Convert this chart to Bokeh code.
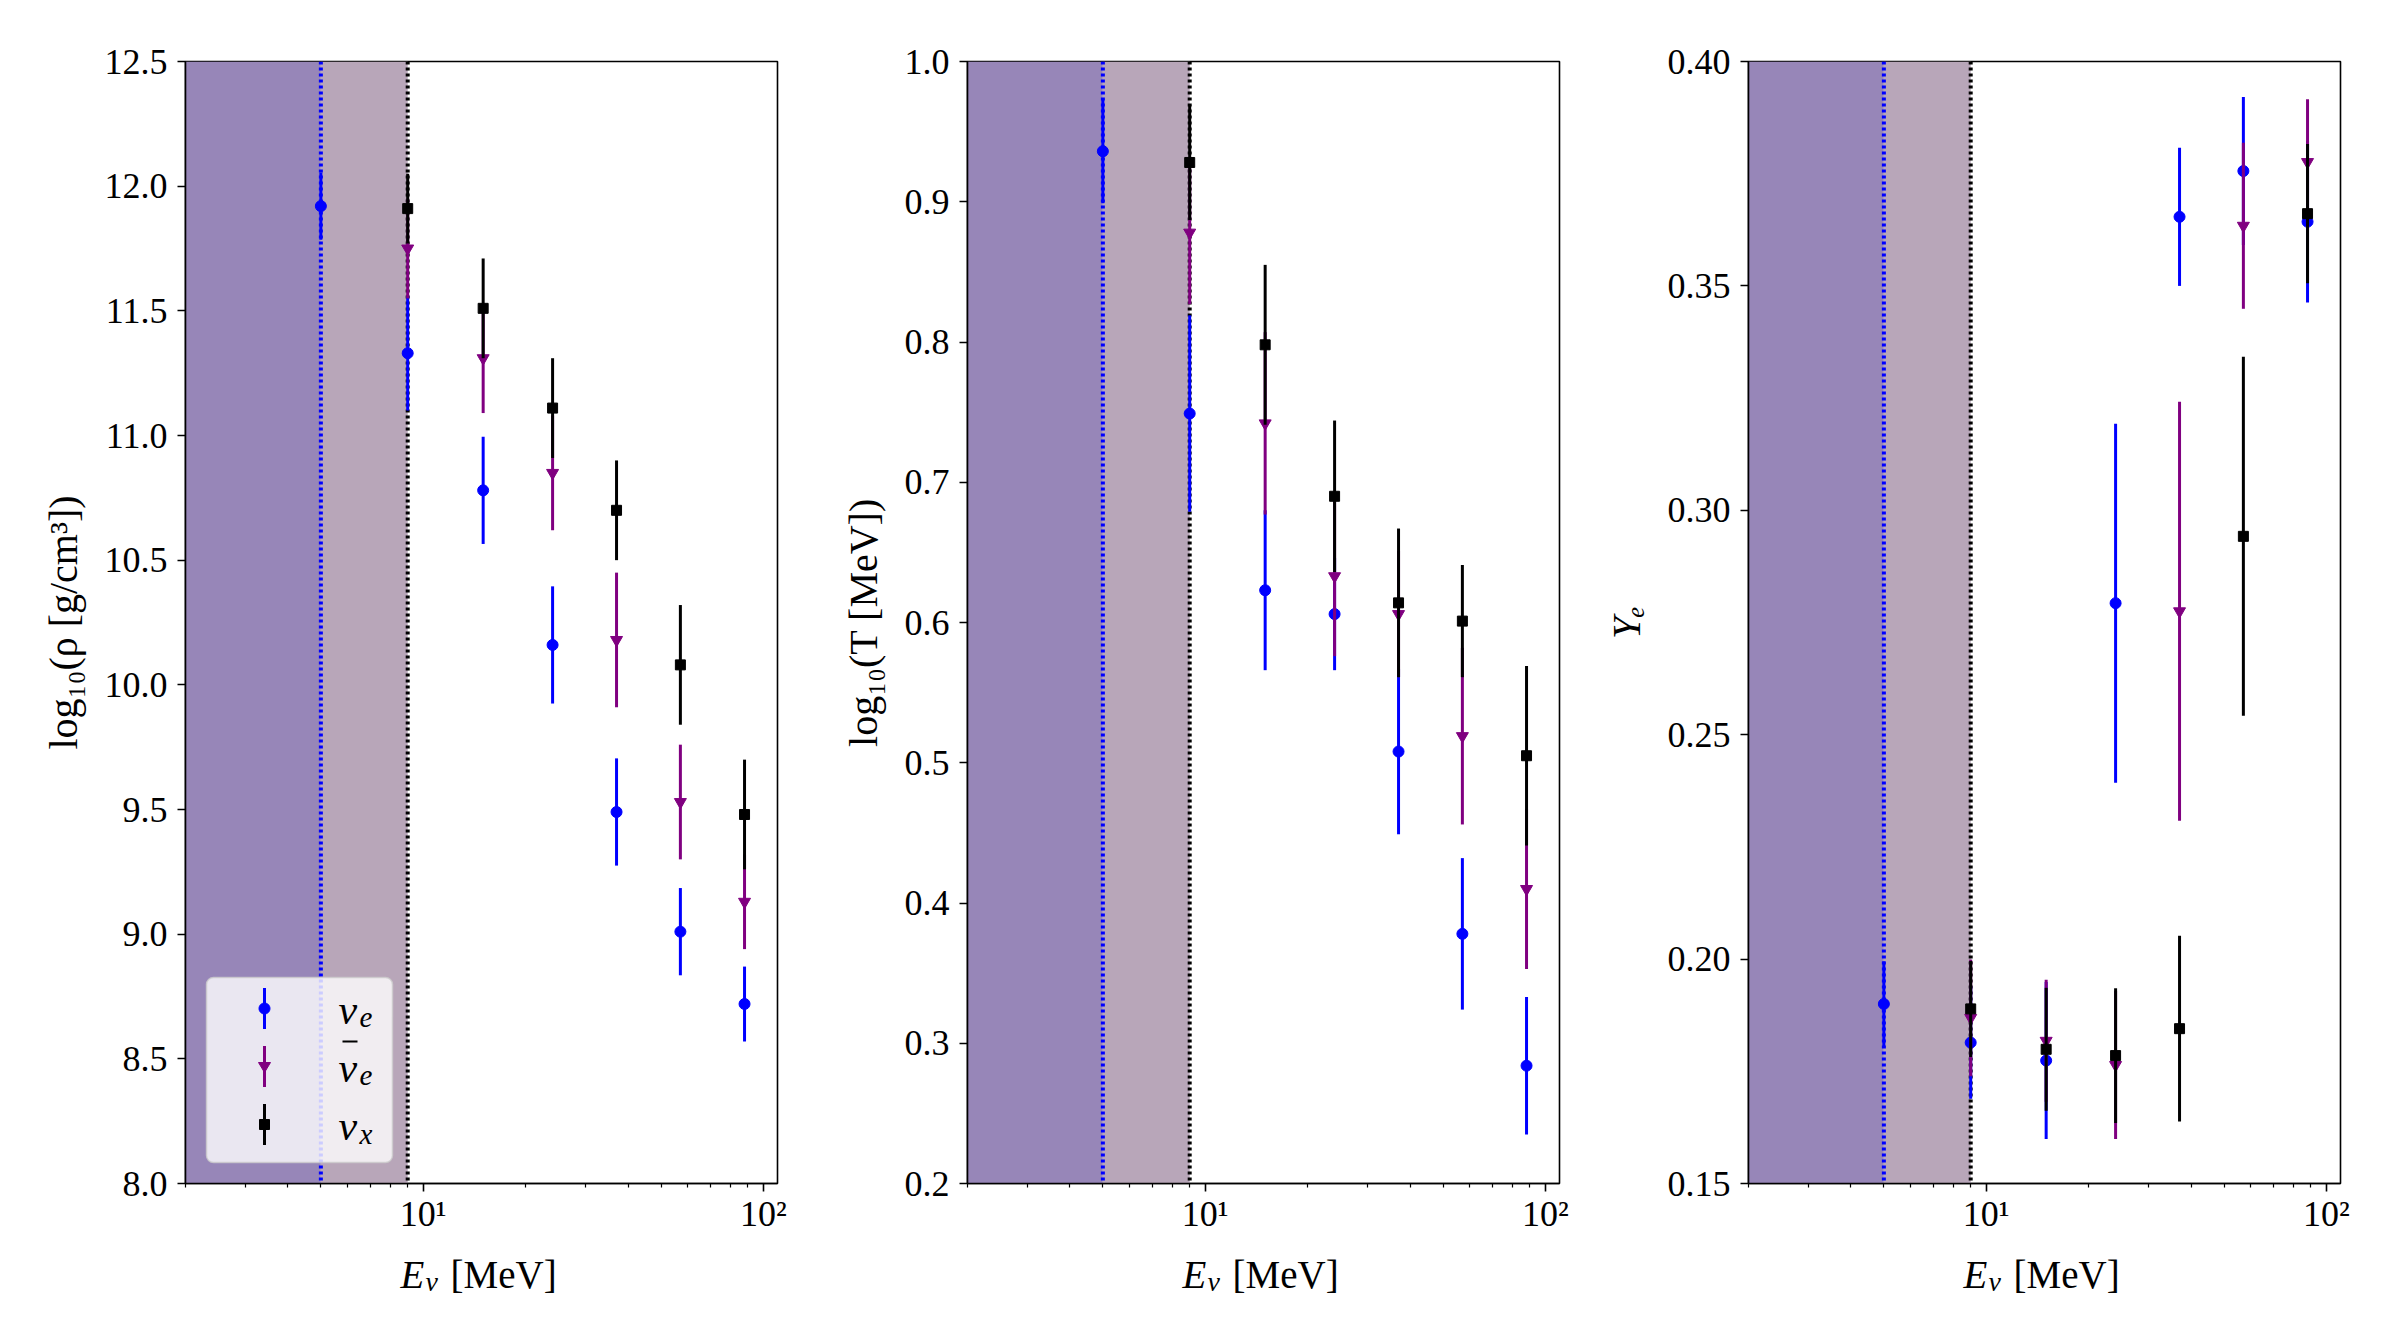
import numpy as np
from bokeh.plotting import figure
from bokeh.layouts import row, column
from bokeh.models import (Range1d, FixedTicker, PrintfTickFormatter, BoxAnnotation,
                          Span, Label, Arrow, PolyAnnotation)
from bokeh.embed import file_html
from bokeh.resources import INLINE

# ---------------------------------------------------------------- data
energy = [5, 9, 15, 24, 37, 57, 88]          # neutrino energy bins [MeV]
energy_heavy = energy[1:]                    # anti-nu_e and nu_x start at 9 MeV
x_limits = (2, 110)
shade_edges = [5, 9]                         # decoupling energies of nu_e / others

rho_nue = [11.92, 11.33, 10.78, 10.16, 9.49, 9.01, 8.72]
rho_nue_err = [0.135, 0.23, 0.215, 0.235, 0.215, 0.175, 0.15]
rho_anue = [11.75, 11.31, 10.85, 10.18, 9.53, 9.13]
rho_anue_err = [0.20, 0.22, 0.23, 0.27, 0.23, 0.19]
rho_nux = [11.91, 11.51, 11.11, 10.70, 10.08, 9.48]
rho_nux_err = [0.14, 0.20, 0.20, 0.20, 0.24, 0.22]

temp_nue = [0.936, 0.749, 0.623, 0.606, 0.508, 0.378, 0.284]
temp_nue_err = [0.037, 0.07, 0.057, 0.04, 0.059, 0.054, 0.049]
temp_anue = [0.878, 0.742, 0.633, 0.606, 0.519, 0.410]
temp_anue_err = [0.051, 0.065, 0.057, 0.045, 0.063, 0.057]
temp_nux = [0.928, 0.798, 0.690, 0.614, 0.601, 0.505]
temp_nux_err = [0.041, 0.057, 0.054, 0.053, 0.040, 0.064]

ye_nue = [0.190, 0.1814, 0.1774, 0.2793, 0.3654, 0.3756, 0.3643]
ye_nue_err = [0.0095, 0.0125, 0.0175, 0.040, 0.0154, 0.0165, 0.018]
ye_anue = [0.1869, 0.1818, 0.1764, 0.2775, 0.3634, 0.3776]
ye_anue_err = [0.013, 0.0136, 0.0165, 0.0467, 0.0185, 0.014]
ye_nux = [0.1889, 0.1799, 0.1785, 0.1845, 0.2942, 0.3661]
ye_nux_err = [0.0107, 0.0137, 0.015, 0.0207, 0.040, 0.0155]

x_major_ticks = [10, 100]
x_major_labels = {10: "10\u00b9", 100: "10\u00b2"}
x_minor_ticks = [m * 10 ** k for k in (0, 1) for m in range(2, 10)]

# ---------------------------------------------------------------- style
FONT = "Liberation Serif"
C_NUE, C_ANUE, C_NUX = "#0000ff", "#800080", "#000000"
SHADE_DARK, SHADE_LIGHT = "#9786b8", "#b8a6b9"
FRAME_W, FRAME_H = 592, 1122
BORDER_TOP, BORDER_BOTTOM = 61, 50
TOTAL_W, TOTAL_H = 2400, 1334
BORDERS = [(185, 10), (180, 10), (179, 60)]   # (left, right) of each panel


def errorbars(p, x, y, err, color, marker, size):
    y = np.asarray(y, dtype=float)
    err = np.asarray(err, dtype=float)
    p.segment(x0=x, y0=y - err, x1=x, y1=y + err, line_color=color, line_width=3)
    p.scatter(x=x, y=y, marker=marker, size=size, fill_color=color, line_color=color)


def make_panel(ylabel, y_lo, y_hi, y_ticks, fmt, series, border_left, border_right,
               label_italic=False):
    p = figure(x_axis_type="log", x_range=Range1d(*x_limits), y_range=Range1d(y_lo, y_hi),
               frame_width=FRAME_W, frame_height=FRAME_H,
               min_border_left=border_left, min_border_right=border_right,
               min_border_top=BORDER_TOP, min_border_bottom=BORDER_BOTTOM,
               output_backend="svg", toolbar_location=None,
               background_fill_color="white", border_fill_color="white")
    p.grid.visible = False
    p.outline_line_color = "black"
    p.outline_line_width = 1.6

    # shaded regions below the decoupling energies
    p.add_layout(BoxAnnotation(right=shade_edges[0], fill_color=SHADE_DARK, fill_alpha=1.0,
                               line_alpha=0, level="underlay"))
    p.add_layout(BoxAnnotation(left=shade_edges[0], right=shade_edges[1], fill_color=SHADE_LIGHT,
                               fill_alpha=1.0, line_alpha=0, level="underlay"))
    p.add_layout(Span(location=shade_edges[0], dimension="height", line_color=C_NUE,
                      line_width=4, line_dash="3 3", level="underlay"))
    p.add_layout(Span(location=shade_edges[1], dimension="height", line_color=C_NUX,
                      line_width=4, line_dash="3 3", level="underlay"))

    nue, nue_err, anue, anue_err, nux, nux_err = series
    errorbars(p, energy, nue, nue_err, C_NUE, "circle", 11)
    errorbars(p, energy_heavy, anue, anue_err, C_ANUE, "inverted_triangle", 12)
    errorbars(p, energy_heavy, nux, nux_err, C_NUX, "square", 10)

    xa = p.xaxis[0]
    xa.ticker = FixedTicker(ticks=x_major_ticks, minor_ticks=x_minor_ticks)
    xa.major_label_overrides = x_major_labels
    ya = p.yaxis[0]
    ya.ticker = FixedTicker(ticks=y_ticks, minor_ticks=[])
    ya.formatter = PrintfTickFormatter(format=fmt)
    ya.axis_label = ylabel
    ya.axis_label_text_font_style = "italic" if label_italic else "normal"
    ya.axis_label_standoff = 16

    for ax in (xa, ya):
        ax.axis_line_color = "black"
        ax.axis_line_width = 1.6
        ax.major_tick_line_color = "black"
        ax.major_tick_line_width = 1.6
        ax.minor_tick_line_color = "black"
        ax.minor_tick_line_width = 1.2
        ax.major_tick_in = 0
        ax.major_tick_out = 8
        ax.minor_tick_in = 0
        ax.minor_tick_out = 4
        ax.major_label_text_font = FONT
        ax.major_label_text_font_size = "36px"
        ax.major_label_text_color = "black"
        ax.axis_label_text_font = FONT
        ax.axis_label_text_font_size = "40px"
        ax.axis_label_text_color = "black"
    ya.major_label_standoff = 10
    xa.major_label_standoff = 2
    return p


def add_legend(p):
    box = BoxAnnotation(left=21, right=207, bottom=21, top=206,
                        left_units="screen", right_units="screen",
                        bottom_units="screen", top_units="screen",
                        fill_color="white", fill_alpha=0.8, line_color="#cccccc",
                        line_alpha=0.8, line_width=1.5, border_radius=7)
    p.add_layout(box)
    key_x, text_x, half_bar = 79, 153, 20.5
    entries = [(175, C_NUE, "circle", False, "e"),
               (117, C_ANUE, "tri", True, "e"),
               (59, C_NUX, "square", False, "x")]
    common = dict(x_units="screen", y_units="screen", text_font=FONT, text_color="black",
                  text_baseline="alphabetic", text_align="left", text_font_style="italic")
    for ry, color, shape, bar, sub in entries:
        p.add_layout(Arrow(x_start=key_x, y_start=ry - half_bar, x_end=key_x, y_end=ry + half_bar,
                           start_units="screen", end_units="screen", end=None,
                           line_color=color, line_width=3))
        if shape == "circle":
            t = np.linspace(0, 2 * np.pi, 32, endpoint=False)
            xs, ys = key_x + 5.5 * np.cos(t), ry + 5.5 * np.sin(t)
        elif shape == "tri":
            xs, ys = [key_x - 6, key_x + 6, key_x], [ry + 4, ry + 4, ry - 6]
        else:
            xs, ys = [key_x - 5, key_x + 5, key_x + 5, key_x - 5], [ry - 5, ry - 5, ry + 5, ry + 5]
        p.add_layout(PolyAnnotation(xs=list(xs), ys=list(ys), xs_units="screen", ys_units="screen",
                                    fill_color=color, fill_alpha=1.0, line_color=color,
                                    line_alpha=1.0, line_width=1))
        base = ry - 1
        p.add_layout(Label(x=text_x, y=base, text="\u03bd", text_font_size="42px", **common))
        p.add_layout(Label(x=text_x + 21, y=base - 8, text=sub, text_font_size="29px", **common))
        if bar:
            p.add_layout(Arrow(x_start=text_x + 4, y_start=base + 26, x_end=text_x + 19,
                               y_end=base + 26, start_units="screen", end_units="screen",
                               end=None, line_color="black", line_width=2))


p1 = make_panel("log\u2081\u2080(\u03c1 [g/cm\u00b3])", 8.0, 12.5,
                [8.0, 8.5, 9.0, 9.5, 10.0, 10.5, 11.0, 11.5, 12.0, 12.5], "%.1f",
                (rho_nue, rho_nue_err, rho_anue, rho_anue_err, rho_nux, rho_nux_err), *BORDERS[0])
add_legend(p1)
p2 = make_panel("log\u2081\u2080(T [MeV])", 0.2, 1.0,
                [0.2, 0.3, 0.4, 0.5, 0.6, 0.7, 0.8, 0.9, 1.0], "%.1f",
                (temp_nue, temp_nue_err, temp_anue, temp_anue_err, temp_nux, temp_nux_err), *BORDERS[1])
p3 = make_panel("Y\u2091", 0.15, 0.40,
                [0.15, 0.20, 0.25, 0.30, 0.35, 0.40], "%.2f",
                (ye_nue, ye_nue_err, ye_anue, ye_anue_err, ye_nux, ye_nux_err), *BORDERS[2],
                label_italic=True)

# strip under the panels carrying the shared x-axis titles  E_nu [MeV]
strip_h = TOTAL_H - BORDER_TOP - FRAME_H - BORDER_BOTTOM
strip = figure(width=TOTAL_W, height=strip_h, min_border=0, x_axis_location=None,
               y_axis_location=None, toolbar_location=None, output_backend="svg",
               outline_line_color=None, background_fill_color="white",
               border_fill_color="white")
strip.grid.visible = False
title_base = TOTAL_H - 1271          # baseline height above the bottom of the page
common = dict(x_units="screen", y_units="screen", text_font=FONT, text_color="black",
              text_baseline="alphabetic", text_align="left")
frame_left = 0
for left, right in BORDERS:
    frame_left += left
    strip.add_layout(Label(x=frame_left + 215, y=title_base, text="E", text_font_size="39px",
                           text_font_style="italic", **common))
    strip.add_layout(Label(x=frame_left + 240, y=title_base - 7, text="\u03bd",
                           text_font_size="28px", text_font_style="italic", **common))
    strip.add_layout(Label(x=frame_left + 265, y=title_base, text="[MeV]",
                           text_font_size="39px", **common))
    frame_left += FRAME_W + right

layout = column(row(p1, p2, p3, spacing=0), strip, spacing=0)
open("out.html", "w").write(file_html(layout, INLINE))
